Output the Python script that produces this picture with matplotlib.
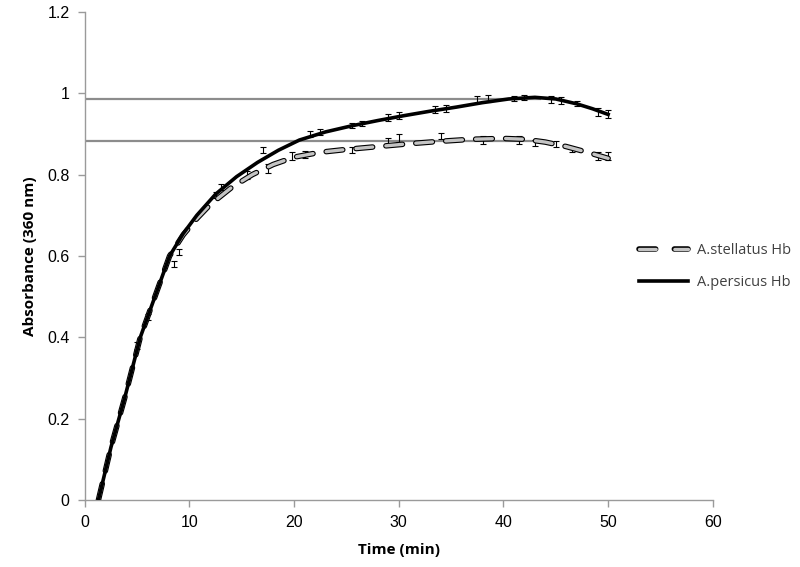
import matplotlib
matplotlib.use("Agg")
import matplotlib.pyplot as plt
import matplotlib.patheffects as pe
from matplotlib.lines import Line2D

# Data
persicus_t = [1.3, 2.5, 3.8, 5.3, 6.7, 8.1, 9.4, 10.7, 12.5, 14.5, 16.5, 18.5, 20.5, 23.0, 25.5, 28.0, 30.5, 33.0, 35.5, 38.0, 40.5, 43.0, 45.0, 47.0, 48.5, 50.0]
persicus_v = [0.0, 0.13, 0.25, 0.40, 0.50, 0.60, 0.655, 0.70, 0.752, 0.795, 0.830, 0.860, 0.885, 0.905, 0.920, 0.933, 0.945, 0.956, 0.966, 0.977, 0.986, 0.990, 0.986, 0.974, 0.962, 0.948]

stellatus_t = [1.3, 2.5, 3.8, 5.3, 6.7, 8.1, 9.4, 10.7, 12.0, 14.0, 16.0, 18.0, 20.0, 22.5, 25.0, 28.0, 31.0, 34.0, 37.0, 40.0, 42.0, 44.0, 46.0, 48.0, 50.0]
stellatus_v = [0.0, 0.13, 0.25, 0.40, 0.50, 0.60, 0.652, 0.692, 0.727, 0.768, 0.800, 0.825, 0.843, 0.855, 0.862, 0.869, 0.876, 0.882, 0.887, 0.889, 0.887, 0.880, 0.869, 0.855, 0.840]

# error bar points
p_err_t = [6.0, 9.0, 13.0, 17.0, 21.5, 22.5, 25.5, 26.5, 29.0, 30.0, 33.5, 34.5, 37.5, 38.5, 41.0, 42.0, 44.5, 45.5, 47.0, 49.0, 50.0]
p_err_v = [0.45, 0.61, 0.77, 0.86, 0.90, 0.905, 0.92, 0.925, 0.94, 0.945, 0.96, 0.962, 0.985, 0.987, 0.988, 0.99, 0.985, 0.982, 0.975, 0.955, 0.95]
p_err_e = [0.008, 0.008, 0.008, 0.008, 0.008, 0.008, 0.006, 0.006, 0.008, 0.008, 0.008, 0.008, 0.008, 0.008, 0.006, 0.006, 0.008, 0.008, 0.006, 0.01, 0.01]

s_err_t = [5.0, 8.5, 12.5, 15.5, 17.5, 19.8, 21.0, 25.5, 29.0, 30.0, 34.0, 38.0, 41.5, 43.0, 45.0, 46.5, 49.0, 50.0]
s_err_v = [0.38, 0.58, 0.75, 0.80, 0.815, 0.845, 0.85, 0.86, 0.88, 0.89, 0.895, 0.885, 0.885, 0.878, 0.875, 0.862, 0.845, 0.845]
s_err_e = [0.008, 0.008, 0.008, 0.01, 0.01, 0.01, 0.008, 0.008, 0.01, 0.01, 0.008, 0.01, 0.01, 0.008, 0.008, 0.006, 0.01, 0.01]

ref_levels = [0.986, 0.883]
ref_end = [43.5, 43.0]

x_ticks = [0, 10, 20, 30, 40, 50, 60]
y_ticks = [0, 0.2, 0.4, 0.6, 0.8, 1.0, 1.2]
y_tick_labels = ["0", "0.2", "0.4", "0.6", "0.8", "1", "1.2"]
series_labels = ["A.stellatus Hb", "A.persicus Hb"]

fig = plt.figure(figsize=(8, 5.67), dpi=100)
ax = fig.add_axes([0.106, 0.118, 0.785, 0.861])

# reference horizontal lines
for lv, te in zip(ref_levels, ref_end):
    ax.plot([0, te], [lv, lv], color="#8c8c8c", lw=1.6, zorder=2)

# error bars
ax.errorbar(s_err_t, s_err_v, yerr=s_err_e, fmt="none", ecolor="black", elinewidth=0.8, capsize=2.5, capthick=0.8, zorder=3)
ax.errorbar(p_err_t, p_err_v, yerr=p_err_e, fmt="none", ecolor="black", elinewidth=0.8, capsize=2.5, capthick=0.8, zorder=3)

outline = [pe.Stroke(linewidth=4.0, foreground="black"), pe.Normal()]
# A.stellatus dashed (gray fill, black outline)
ax.plot(stellatus_t, stellatus_v, color="#c4c4c4", lw=2.4, dashes=(5.0, 4.0),
        dash_capstyle="round", path_effects=outline, zorder=4)
# A.persicus solid
ax.plot(persicus_t, persicus_v, color="black", lw=2.6, zorder=5)

ax.set_xlim(0, 60)
ax.set_ylim(0, 1.2)
ax.set_xticks(x_ticks)
ax.set_yticks(y_ticks)
ax.set_yticklabels(y_tick_labels)

for s in ["top", "right"]:
    ax.spines[s].set_visible(False)
for s in ["left", "bottom"]:
    ax.spines[s].set_color("#9a9a9a")
    ax.spines[s].set_linewidth(1.0)
ax.tick_params(axis="both", direction="out", length=5, color="#9a9a9a", width=1.0,
               labelsize=11.5, pad=6)
for lab in ax.get_xticklabels() + ax.get_yticklabels():
    lab.set_fontfamily("Liberation Sans")

ax.set_xlabel("Time (min)", fontfamily="Open Sans", fontweight="bold", fontsize=11, labelpad=9)
ax.set_ylabel("Absorbance (360 nm)", fontfamily="Open Sans", fontweight="bold", fontsize=11, labelpad=7)

h_s = Line2D([], [], color="#c4c4c4", lw=2.4, dashes=(5.0, 5.6), dash_capstyle="round",
             path_effects=outline)
h_p = Line2D([], [], color="black", lw=2.6)
leg = ax.legend(handles=[h_s, h_p], labels=series_labels, loc="center left",
                bbox_to_anchor=(0.782, 0.530),
                bbox_transform=fig.transFigure, frameon=False, handlelength=3.4,
                handletextpad=0.6, labelspacing=1.2,
                prop={"family": "Open Sans", "size": 10.5})
for t in leg.get_texts():
    t.set_color("#404040")

fig.savefig("out.png", dpi=100)
